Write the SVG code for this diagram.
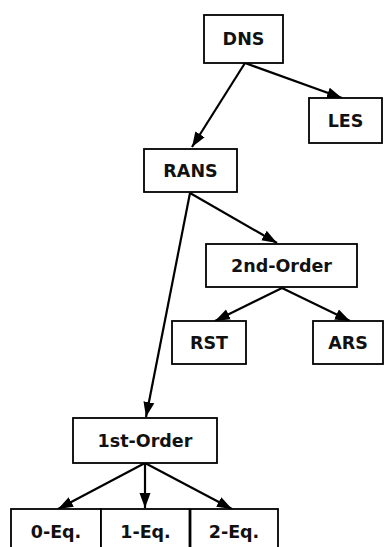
<svg xmlns="http://www.w3.org/2000/svg" width="384" height="547" viewBox="0 0 384 547">
<style>
.box{fill:#fff;stroke:#000;stroke-width:1.8}
.lbl{font-family:"DejaVu Sans",sans-serif;font-weight:bold;font-size:17.5px;text-anchor:middle;fill:#111}
.edge{stroke:#000;stroke-width:2.2;fill:none;marker-end:url(#ah)}
</style>
<defs>
<marker id="ah" markerUnits="userSpaceOnUse" markerWidth="16" markerHeight="12" refX="15" refY="6" orient="auto">
<path d="M0,0.5 L15,6 L0,11.5 Z" fill="#000"/>
</marker>
</defs>
<rect width="384" height="547" fill="#fff"/>
<g id="connectors">
<line class="edge" x1="245" y1="63" x2="192" y2="147"/>
<line class="edge" x1="245" y1="63" x2="342" y2="98"/>
<line class="edge" x1="190" y1="193" x2="277" y2="243"/>
<line class="edge" x1="190" y1="193" x2="146" y2="417"/>
<line class="edge" x1="282" y1="288" x2="215" y2="321"/>
<line class="edge" x1="282" y1="288" x2="350" y2="321"/>
<line class="edge" x1="145" y1="463" x2="58" y2="509"/>
<line class="edge" x1="145" y1="463" x2="145" y2="508"/>
<line class="edge" x1="145" y1="463" x2="232" y2="509"/>
</g>
<g id="DNS"><rect class="box" x="204" y="15" width="79" height="48"/><text class="lbl" x="243.5" y="45">DNS</text></g>
<g id="LES"><rect class="box" x="309" y="98" width="73" height="45"/><text class="lbl" x="345.5" y="127">LES</text></g>
<g id="RANS"><rect class="box" x="144" y="149" width="93" height="43"/><text class="lbl" x="190.5" y="176.5">RANS</text></g>
<g id="SecondOrder"><rect class="box" x="206" y="244" width="151" height="43"/><text class="lbl" x="281.5" y="271.5">2nd-Order</text></g>
<g id="RST"><rect class="box" x="172" y="321" width="74" height="43"/><text class="lbl" x="209" y="348.5">RST</text></g>
<g id="ARS"><rect class="box" x="313" y="321" width="70" height="43"/><text class="lbl" x="348" y="348.5">ARS</text></g>
<g id="FirstOrder"><rect class="box" x="73" y="418" width="144" height="45"/><text class="lbl" x="145" y="446.5">1st-Order</text></g>
<g id="ZeroEq"><rect class="box" x="11" y="509" width="90" height="46"/><text class="lbl" x="56" y="538">0-Eq.</text></g>
<g id="OneEq"><rect class="box" x="101" y="509" width="88.5" height="46"/><text class="lbl" x="145.5" y="538">1-Eq.</text></g>
<g id="TwoEq"><rect class="box" x="190.5" y="509" width="87.5" height="46"/><text class="lbl" x="234" y="538">2-Eq.</text></g>
</svg>
